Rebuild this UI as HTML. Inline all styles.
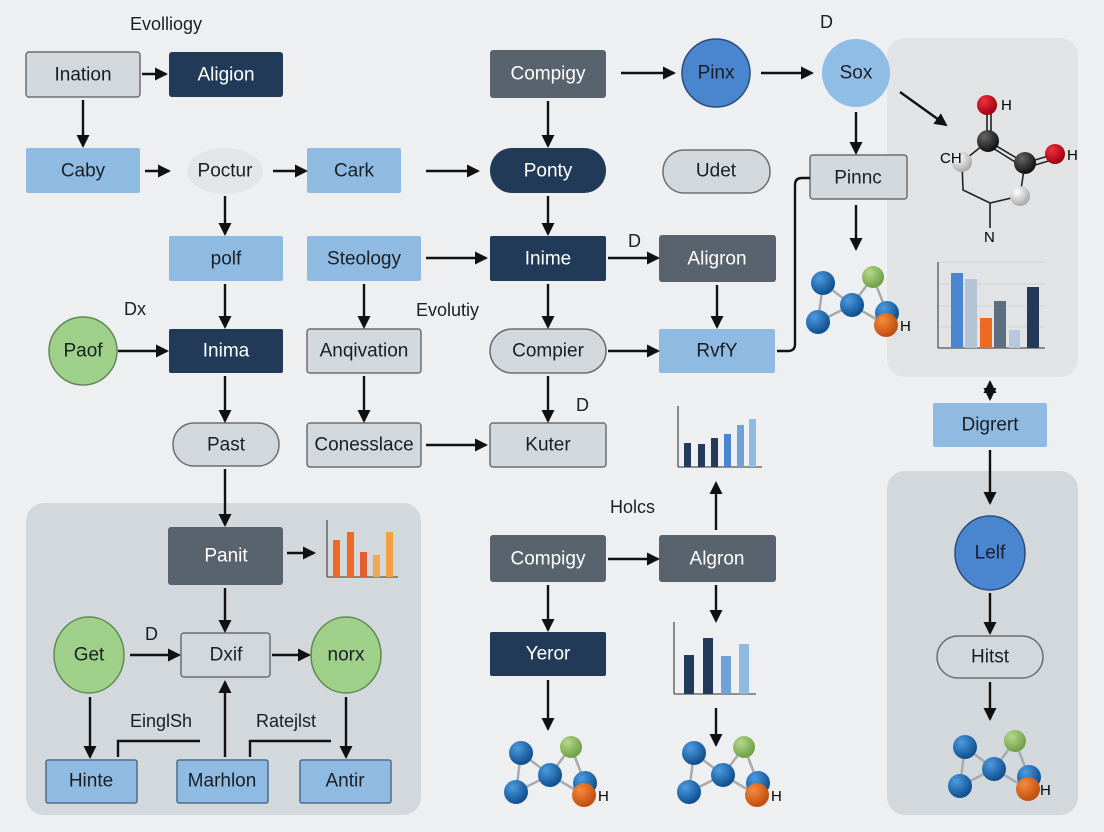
<!DOCTYPE html>
<html><head><meta charset="utf-8"><style>
html,body{margin:0;padding:0;background:#eeeff0;}
svg{display:block;font-family:"Liberation Sans",sans-serif;}
.t{font-size:19px;text-anchor:middle;dominant-baseline:central;fill:#1b1f24;}
.w{fill:#fff;}
.l{font-size:18px;fill:#1b1f24;}
.ln{stroke:#111;stroke-width:2.4;fill:none;}
.gr{stroke:#555;stroke-width:1.3;}
.gl{stroke:#d0d0d0;stroke-width:1;}
</style></head><body>
<svg width="1104" height="832" viewBox="0 0 1104 832" xmlns="http://www.w3.org/2000/svg">
<defs>
<marker id="a" markerWidth="13" markerHeight="13" refX="11" refY="6.5" orient="auto" markerUnits="userSpaceOnUse"><path d="M0,0 L13,6.5 L0,13 z" fill="#111"/></marker>
<marker id="b" markerWidth="13" markerHeight="13" refX="2" refY="6.5" orient="auto" markerUnits="userSpaceOnUse"><path d="M13,0 L0,6.5 L13,13 z" fill="#111"/></marker>
<radialGradient id="gb" cx="35%" cy="30%" r="70%"><stop offset="0" stop-color="#4d9be0"/><stop offset="1" stop-color="#0e4f8f"/></radialGradient>
<radialGradient id="gg" cx="35%" cy="30%" r="70%"><stop offset="0" stop-color="#b4d98a"/><stop offset="1" stop-color="#6f9f47"/></radialGradient>
<radialGradient id="go" cx="35%" cy="30%" r="70%"><stop offset="0" stop-color="#f58a3c"/><stop offset="1" stop-color="#c04e10"/></radialGradient>
<radialGradient id="gr2" cx="35%" cy="30%" r="70%"><stop offset="0" stop-color="#f03040"/><stop offset="1" stop-color="#a00010"/></radialGradient>
<radialGradient id="gk" cx="35%" cy="30%" r="70%"><stop offset="0" stop-color="#666"/><stop offset="1" stop-color="#111"/></radialGradient>
<radialGradient id="gw" cx="35%" cy="30%" r="70%"><stop offset="0" stop-color="#fff"/><stop offset="1" stop-color="#aaa"/></radialGradient>
<g id="mol">
<path d="M23,33 L18,72 M23,33 L52,55 L18,72 M52,55 L73,27 L87,63 M52,55 L86,75" stroke="#aaa" stroke-width="2.5" fill="none"/>
<circle cx="23" cy="33" r="12" fill="url(#gb)"/><circle cx="18" cy="72" r="12" fill="url(#gb)"/>
<circle cx="52" cy="55" r="12" fill="url(#gb)"/><circle cx="73" cy="27" r="11" fill="url(#gg)"/>
<circle cx="87" cy="63" r="12" fill="url(#gb)"/><circle cx="86" cy="75" r="12" fill="url(#go)"/>
</g>
</defs>
<rect width="1104" height="832" fill="#eeeff0"/>
<rect x="887" y="38" width="191" height="339" rx="18" fill="#e2e3e4"/>
<rect x="887" y="471" width="191" height="344" rx="18" fill="#d3d8dc"/>
<rect x="26" y="503" width="395" height="312" rx="18" fill="#d3d8dc"/>

<text x="130" y="30" class="l">Evolliogy</text>
<text x="820" y="28" class="l">D</text>
<text x="124" y="315" class="l">Dx</text>
<text x="416" y="316" class="l">Evolutiy</text>
<text x="628" y="247" class="l">D</text>
<text x="576" y="411" class="l">D</text>
<text x="610" y="513" class="l">Holcs</text>
<text x="145" y="640" class="l">D</text>
<text x="130" y="727" class="l">EinglSh</text>
<text x="256" y="727" class="l">Ratejlst</text>

<rect x="26" y="52" width="114" height="45" rx="3" fill="#d3d8dc" stroke="#6a6f74" stroke-width="1.5"/><text x="83" y="75" class="t">Ination</text>
<rect x="169" y="52" width="114" height="45" rx="3" fill="#213a57"/><text x="226" y="75" class="t w">Aligion</text>
<rect x="490" y="50" width="116" height="48" rx="3" fill="#59636e"/><text x="548" y="74" class="t w">Compigy</text>
<circle cx="716" cy="73" r="34" fill="#4a86d0" stroke="#2b4d7a" stroke-width="1.5"/><text x="716" y="73" class="t">Pinx</text>
<circle cx="856" cy="73" r="34" fill="#8fbde6"/><text x="856" y="73" class="t">Sox</text>
<rect x="26" y="148" width="114" height="45" rx="2" fill="#8fbbe3"/><text x="83" y="171" class="t">Caby</text>
<ellipse cx="225" cy="171" rx="38" ry="23" fill="#e4e5e6"/><text x="225" y="171" class="t">Poctur</text>
<rect x="307" y="148" width="94" height="45" rx="2" fill="#8fbbe3"/><text x="354" y="171" class="t">Cark</text>
<rect x="490" y="148" width="116" height="45" rx="22" fill="#213a57"/><text x="548" y="171" class="t w">Ponty</text>
<rect x="663" y="150" width="107" height="43" rx="21" fill="#d3d8dc" stroke="#6a6f74" stroke-width="1.5"/><text x="716" y="171" class="t">Udet</text>
<rect x="810" y="155" width="97" height="44" rx="3" fill="#d3d8dc" stroke="#6a6f74" stroke-width="1.5"/><text x="858" y="178" class="t">Pinnc</text>
<rect x="169" y="236" width="114" height="45" rx="2" fill="#8fbbe3"/><text x="226" y="259" class="t">polf</text>
<rect x="307" y="236" width="114" height="45" rx="2" fill="#8fbbe3"/><text x="364" y="259" class="t">Steology</text>
<rect x="490" y="236" width="116" height="45" rx="2" fill="#213a57"/><text x="548" y="259" class="t w">Inime</text>
<rect x="659" y="235" width="117" height="47" rx="3" fill="#59636e"/><text x="717" y="259" class="t w">Aligron</text>
<circle cx="83" cy="351" r="34" fill="#9fd08a" stroke="#5f8a55" stroke-width="1.5"/><text x="83" y="351" class="t">Paof</text>
<rect x="169" y="329" width="114" height="44" rx="2" fill="#213a57"/><text x="226" y="351" class="t w">Inima</text>
<rect x="307" y="329" width="114" height="44" rx="3" fill="#d3d8dc" stroke="#6a6f74" stroke-width="1.5"/><text x="364" y="351" class="t">Anqivation</text>
<rect x="490" y="329" width="116" height="44" rx="22" fill="#d3d8dc" stroke="#6a6f74" stroke-width="1.5"/><text x="548" y="351" class="t">Compier</text>
<rect x="659" y="329" width="116" height="44" rx="2" fill="#8fbbe3"/><text x="717" y="351" class="t">RvfY</text>
<rect x="173" y="423" width="106" height="43" rx="21" fill="#d3d8dc" stroke="#6a6f74" stroke-width="1.5"/><text x="226" y="445" class="t">Past</text>
<rect x="307" y="423" width="114" height="44" rx="3" fill="#d3d8dc" stroke="#6a6f74" stroke-width="1.5"/><text x="364" y="445" class="t">Conesslace</text>
<rect x="490" y="423" width="116" height="44" rx="3" fill="#d3d8dc" stroke="#6a6f74" stroke-width="1.5"/><text x="548" y="445" class="t">Kuter</text>
<rect x="933" y="403" width="114" height="44" rx="2" fill="#8fbbe3"/><text x="990" y="425" class="t">Digrert</text>
<rect x="168" y="527" width="115" height="58" rx="3" fill="#59636e"/><text x="226" y="556" class="t w">Panit</text>
<rect x="490" y="535" width="116" height="47" rx="3" fill="#59636e"/><text x="548" y="559" class="t w">Compigy</text>
<rect x="659" y="535" width="117" height="47" rx="3" fill="#59636e"/><text x="717" y="559" class="t w">Algron</text>
<ellipse cx="990" cy="553" rx="35" ry="37" fill="#4a86d0" stroke="#2b4d7a" stroke-width="1.5"/><text x="990" y="553" class="t">Lelf</text>
<ellipse cx="89" cy="655" rx="35" ry="38" fill="#9fd08a" stroke="#5f8a55" stroke-width="1.5"/><text x="89" y="655" class="t">Get</text>
<rect x="181" y="633" width="89" height="44" rx="3" fill="#d3d8dc" stroke="#6a6f74" stroke-width="1.5"/><text x="226" y="655" class="t">Dxif</text>
<ellipse cx="346" cy="655" rx="35" ry="38" fill="#9fd08a" stroke="#5f8a55" stroke-width="1.5"/><text x="346" y="655" class="t">norx</text>
<rect x="490" y="632" width="116" height="44" rx="2" fill="#213a57"/><text x="548" y="654" class="t w">Yeror</text>
<rect x="937" y="636" width="106" height="42" rx="21" fill="#d3d8dc" stroke="#6a6f74" stroke-width="1.5"/><text x="990" y="657" class="t">Hitst</text>
<rect x="46" y="760" width="91" height="43" rx="2" fill="#8fbbe3" stroke="#4d6c8a" stroke-width="1.5"/><text x="91" y="781" class="t">Hinte</text>
<rect x="177" y="760" width="91" height="43" rx="2" fill="#8fbbe3" stroke="#4d6c8a" stroke-width="1.5"/><text x="222" y="781" class="t">Marhlon</text>
<rect x="300" y="760" width="91" height="43" rx="2" fill="#8fbbe3" stroke="#4d6c8a" stroke-width="1.5"/><text x="345" y="781" class="t">Antir</text>

<g class="ln">
<path d="M142,74 H166" marker-end="url(#a)"/>
<path d="M83,100 V146" marker-end="url(#a)"/>
<path d="M621,73 H674" marker-end="url(#a)"/>
<path d="M761,73 H812" marker-end="url(#a)"/>
<path d="M900,92 L946,125" marker-end="url(#a)"/>
<path d="M548,101 V146" marker-end="url(#a)"/>
<path d="M856,112 V153" marker-end="url(#a)"/>
<path d="M145,171 H169" marker-end="url(#a)"/>
<path d="M273,171 H306" marker-end="url(#a)"/>
<path d="M426,171 H478" marker-end="url(#a)"/>
<path d="M225,196 V234" marker-end="url(#a)"/>
<path d="M548,196 V234" marker-end="url(#a)"/>
<path d="M856,205 V249" marker-end="url(#a)"/>
<path d="M426,258 H486" marker-end="url(#a)"/>
<path d="M608,258 H658" marker-end="url(#a)"/>
<path d="M225,284 V327" marker-end="url(#a)"/>
<path d="M364,284 V327" marker-end="url(#a)"/>
<path d="M548,284 V327" marker-end="url(#a)"/>
<path d="M717,285 V327" marker-end="url(#a)"/>
<path d="M118,351 H167" marker-end="url(#a)"/>
<path d="M608,351 H658" marker-end="url(#a)"/>
<path d="M777,351 H788 Q795,351 795,344 V185 Q795,178 802,178 H810"/>
<path d="M225,376 V421" marker-end="url(#a)"/>
<path d="M364,376 V421" marker-end="url(#a)"/>
<path d="M548,376 V421" marker-end="url(#a)"/>
<path d="M426,445 H486" marker-end="url(#a)"/>
<path d="M990,382 V399" marker-start="url(#b)" marker-end="url(#a)"/>
<path d="M990,450 V503" marker-end="url(#a)"/>
<path d="M225,469 V525" marker-end="url(#a)"/>
<path d="M287,553 H314" marker-end="url(#a)"/>
<path d="M716,530 V483" marker-end="url(#a)"/>
<path d="M608,559 H658" marker-end="url(#a)"/>
<path d="M225,588 V631" marker-end="url(#a)"/>
<path d="M548,585 V630" marker-end="url(#a)"/>
<path d="M716,585 V621" marker-end="url(#a)"/>
<path d="M990,593 V633" marker-end="url(#a)"/>
<path d="M130,655 H179" marker-end="url(#a)"/>
<path d="M272,655 H309" marker-end="url(#a)"/>
<path d="M548,680 V729" marker-end="url(#a)"/>
<path d="M716,708 V745" marker-end="url(#a)"/>
<path d="M990,682 V719" marker-end="url(#a)"/>
<path d="M90,697 V757" marker-end="url(#a)"/>
<path d="M346,697 V757" marker-end="url(#a)"/>
<path d="M225,757 V682" marker-end="url(#a)"/>
<path d="M118,757 V741 H200"/>
<path d="M250,757 V741 H331"/>
</g>

<g>
<path d="M987,105 V141 M991,105 V141 M988,141 L1025,163 M988,145 L1023,167 M1025,163 L1055,154 M1025,168 L1055,159 M988,141 L962,162 M962,162 L963,190 L990,203 L1020,196 L1025,163 M990,203 V228" stroke="#222" stroke-width="1.6" fill="none"/>
<circle cx="987" cy="105" r="10" fill="url(#gr2)"/>
<circle cx="988" cy="141" r="11" fill="url(#gk)"/>
<circle cx="1025" cy="163" r="11" fill="url(#gk)"/>
<circle cx="1055" cy="154" r="10" fill="url(#gr2)"/>
<circle cx="962" cy="162" r="10" fill="url(#gw)"/>
<circle cx="1020" cy="196" r="10" fill="url(#gw)"/>
<text x="1001" y="110" font-size="15">H</text>
<text x="1067" y="160" font-size="15">H</text>
<text x="940" y="163" font-size="15">CH</text>
<text x="984" y="242" font-size="15">N</text>
</g>
<use href="#mol" x="800" y="250"/><text x="900" y="331" font-size="15">H</text>
<use href="#mol" x="498" y="720"/><text x="598" y="801" font-size="15">H</text>
<use href="#mol" x="671" y="720"/><text x="771" y="801" font-size="15">H</text>
<use href="#mol" x="942" y="714"/><text x="1040" y="795" font-size="15">H</text>

<g>
<line x1="938" y1="262" x2="1045" y2="262" class="gl"/><line x1="938" y1="284" x2="1045" y2="284" class="gl"/><line x1="938" y1="306" x2="1045" y2="306" class="gl"/><line x1="938" y1="327" x2="1045" y2="327" class="gl"/>
<line x1="938" y1="262" x2="938" y2="348" class="gr"/><line x1="938" y1="348" x2="1045" y2="348" class="gr"/>
<rect x="951" y="273" width="12" height="75" fill="#4a86d0"/><rect x="965" y="279" width="12" height="69" fill="#b4c4d4"/>
<rect x="980" y="318" width="12" height="30" fill="#ee6a22"/><rect x="994" y="301" width="12" height="47" fill="#5a6e80"/>
<rect x="1009" y="330" width="11" height="18" fill="#b4c8e0"/><rect x="1027" y="287" width="12" height="61" fill="#233b58"/>
</g>
<g>
<line x1="678" y1="406" x2="678" y2="467" class="gr"/><line x1="678" y1="467" x2="762" y2="467" class="gr"/>
<rect x="684" y="443" width="7" height="24" fill="#233b58"/><rect x="698" y="444" width="7" height="23" fill="#233b58"/>
<rect x="711" y="438" width="7" height="29" fill="#233b58"/><rect x="724" y="434" width="7" height="33" fill="#4a86d0"/>
<rect x="737" y="425" width="7" height="42" fill="#6fa2d6"/><rect x="749" y="419" width="7" height="48" fill="#8fbbe3"/>
</g>
<g>
<line x1="327" y1="520" x2="327" y2="577" class="gr"/><line x1="327" y1="577" x2="398" y2="577" class="gr"/>
<rect x="333" y="540" width="7" height="37" fill="#ee6a22"/><rect x="347" y="532" width="7" height="45" fill="#ee6a22"/>
<rect x="360" y="552" width="7" height="25" fill="#e06030"/><rect x="373" y="555" width="7" height="22" fill="#f0a850"/>
<rect x="386" y="532" width="7" height="45" fill="#f0a040"/>
</g>
<g>
<line x1="674" y1="622" x2="674" y2="694" class="gr"/><line x1="674" y1="694" x2="756" y2="694" class="gr"/>
<rect x="684" y="655" width="10" height="39" fill="#233b58"/><rect x="703" y="638" width="10" height="56" fill="#233b58"/>
<rect x="721" y="656" width="10" height="38" fill="#6fa2d6"/><rect x="739" y="644" width="10" height="50" fill="#8fbbe3"/>
</g>
</svg>
</body></html>
